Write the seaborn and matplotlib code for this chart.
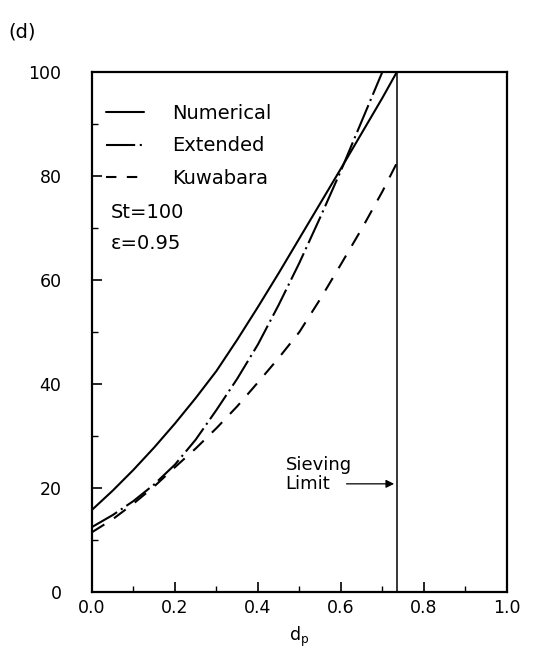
import numpy as np
import pandas as pd
import matplotlib
matplotlib.use("Agg")
import matplotlib.pyplot as plt
import seaborn as sns
from matplotlib.lines import Line2D

sns.set_theme(style="white")
plt.rcParams['font.family'] = ['DejaVu Sans']
plt.rcParams['text.color'] = 'black'
plt.rcParams['axes.labelcolor'] = 'black'
plt.rcParams['xtick.color'] = 'black'
plt.rcParams['ytick.color'] = 'black'

# ---- data ----
num_d = [0.0, 0.05, 0.1, 0.15, 0.2, 0.25, 0.3, 0.35, 0.4, 0.45, 0.5, 0.55, 0.6, 0.65, 0.7, 0.735]
num_v = [15.8, 19.5, 23.5, 27.8, 32.4, 37.3, 42.5, 48.5, 54.8, 61.3, 68.0, 74.7, 81.4, 88.2, 95.0, 100.0]

ext_d = [0.0, 0.05, 0.1, 0.15, 0.2, 0.25, 0.3, 0.35, 0.4, 0.45, 0.5, 0.55, 0.6, 0.65, 0.7, 0.71]
ext_v = [12.5, 14.8, 17.5, 20.7, 24.5, 29.3, 35.0, 41.0, 47.6, 55.2, 63.3, 72.0, 81.0, 90.5, 100.0, 102.0]

kuw_d = [0.0, 0.05, 0.1, 0.15, 0.2, 0.25, 0.3, 0.35, 0.4, 0.45, 0.5, 0.55, 0.6, 0.65, 0.7, 0.735]
kuw_v = [11.5, 14.0, 17.0, 20.3, 24.0, 27.6, 31.5, 35.7, 40.3, 45.0, 50.0, 56.3, 63.0, 69.8, 77.0, 82.5]

sieving_limit = 0.735
labels = ["Numerical", "Extended", "Kuwabara"]
x_ticks = [0.0, 0.2, 0.4, 0.6, 0.8, 1.0]
y_ticks = [0, 20, 40, 60, 80, 100]

df = pd.concat([
    pd.DataFrame({"d": num_d, "v": num_v, "model": labels[0]}),
    pd.DataFrame({"d": ext_d, "v": ext_v, "model": labels[1]}),
    pd.DataFrame({"d": kuw_d, "v": kuw_v, "model": labels[2]}),
])

dash_map = {labels[0]: "", labels[1]: (14, 2.2, 1, 2.2), labels[2]: (7, 5.5)}

fig = plt.figure(figsize=(5.38, 6.6), dpi=100)
ax = fig.add_axes([0.171, 0.103, 0.771, 0.788])

sns.lineplot(data=df, x="d", y="v", style="model", dashes=dash_map,
             color="black", linewidth=1.5, estimator=None, sort=False,
             legend=False, ax=ax)

ax.axvline(sieving_limit, color="black", linewidth=1.1)

ax.set_xlim(0, 1.0)
ax.set_ylim(0, 100)
ax.set_xticks(x_ticks)
ax.set_xticklabels([f"{t:.1f}" for t in x_ticks])
ax.set_yticks(y_ticks)
ax.set_xticks(np.arange(0.1, 1.0, 0.2), minor=True)
ax.set_yticks(np.arange(10, 100, 20), minor=True)
ax.tick_params(axis="both", which="major", direction="in", length=7, width=1.2,
               labelsize=12.5, colors="black", top=False, right=False, bottom=True, left=True)
ax.tick_params(axis="both", which="minor", direction="in", length=4, width=1.0,
               top=False, right=False, bottom=True, left=True)
ax.tick_params(axis="x", which="major", pad=5)
ax.tick_params(axis="y", which="major", pad=22)
for s in ax.spines.values():
    s.set_color("black")
    s.set_linewidth(1.6)
ax.set_xlabel(r"d$_\mathregular{p}$", fontsize=12.5, labelpad=6)
ax.set_ylabel("")

handles = [Line2D([], [], color="black", lw=1.5),
           Line2D([], [], color="black", lw=1.5, dashes=(14, 2.2, 1, 2.2)),
           Line2D([], [], color="black", lw=1.5, dashes=(5, 5))]
leg = ax.legend(handles, labels, loc="upper left", bbox_to_anchor=(0.0, 0.965),
                frameon=False, fontsize=14, handlelength=2.0, handletextpad=1.4,
                labelspacing=0.7, borderaxespad=0.3)

ax.text(0.045, 0.729, "St=100", transform=ax.transAxes, fontsize=14, va="center")
ax.text(0.045, 0.671, "ε=0.95", transform=ax.transAxes, fontsize=14, va="center")

ax.text(0.467, 22.6, "Sieving\nLimit", fontsize=13, va="center", ha="left",
        linespacing=1.1)
ax.annotate("", xy=(sieving_limit, 20.8), xytext=(0.607, 20.8),
            arrowprops=dict(arrowstyle="-|>", color="black", lw=0.9,
                            mutation_scale=12))

fig.text(0.015, 0.952, "(d)", fontsize=14, va="center")

fig.savefig("out.png", dpi=100)
